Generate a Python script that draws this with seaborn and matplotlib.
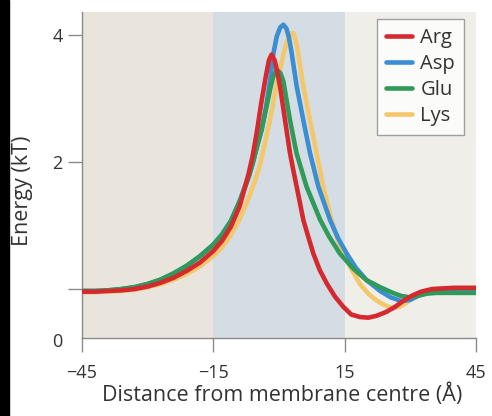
import numpy as np
import pandas as pd
import seaborn as sns
import matplotlib.pyplot as plt
from matplotlib.lines import Line2D
from matplotlib.patches import Rectangle
import matplotlib.transforms as mtransforms

# free-energy profiles (distance in Å, energy in kT)
arg_x = [-45, -42, -39, -36, -33, -30, -27, -24, -21, -18, -15, -13, -11, -9, -7, -6, -5, -4, -3,
         -2.3, -1.7, -1.0, -0.4, 0.23, 0.8, 1.37, 1.95, 2.51, 3.3, 4.04, 4.8, 5.55, 6.7, 7.84, 9.3,
         10.9, 12.8, 14.7, 16.5, 18.5, 20.4, 22.3, 24.5, 26.5, 28.5, 30.5, 32.5, 35, 40, 45]
arg_e = [-0.04, -0.04, -0.03, -0.02, 0.0, 0.04, 0.1, 0.18, 0.29, 0.42, 0.6, 0.76, 0.98, 1.3, 1.8, 2.1, 2.5, 2.95, 3.35,
         3.6, 3.69, 3.6, 3.42, 3.19, 2.93, 2.66, 2.4, 2.14, 1.86, 1.61, 1.35, 1.09, 0.82, 0.56, 0.3,
         0.09, -0.12, -0.28, -0.40, -0.44, -0.45, -0.42, -0.36, -0.28, -0.18, -0.10, -0.04, 0.0, 0.02, 0.02]

asp_x = [-45, -42, -39, -36, -33, -30, -27, -24, -21, -18, -15, -13, -11, -9, -7, -6, -5, -4, -3,
         -2, -1.3, -0.5, 0.3, 1.0, 1.7, 2.3, 2.9, 4.04, 5.55, 7.08, 9.0, 11.65, 13.5, 15.46, 17.5,
         20, 23.1, 25.5, 28, 30, 32, 34, 36, 45]
asp_e = [-0.03, -0.03, -0.02, 0.0, 0.03, 0.08, 0.15, 0.25, 0.37, 0.52, 0.70, 0.86, 1.07, 1.38, 1.75, 1.98, 2.25, 2.5, 2.85,
         3.3, 3.7, 3.98, 4.12, 4.16, 4.1, 3.95, 3.71, 3.19, 2.66, 2.14, 1.61, 1.09, 0.8, 0.56, 0.34,
         0.14, -0.03, -0.13, -0.19, -0.17, -0.10, -0.05, -0.03, -0.03]

glu_x = [-45, -42, -39, -36, -33, -30, -27, -24, -21, -18, -15, -13, -11, -9, -7, -6, -5, -4, -3,
         -2, -1.3, -0.5, 0.3, 1.0, 2.5, 4.0, 6.3, 9.4, 11.5, 13.9, 17, 20, 23.1, 26, 28, 30, 32,
         34, 36, 45]
glu_e = [-0.03, -0.03, -0.02, 0.0, 0.03, 0.08, 0.15, 0.25, 0.37, 0.52, 0.70, 0.86, 1.07, 1.38, 1.75, 1.98, 2.25, 2.5, 2.82,
         3.15, 3.35, 3.45, 3.4, 3.27, 2.66, 2.14, 1.61, 1.09, 0.82, 0.56, 0.32, 0.14, 0.03, -0.06, -0.11, -0.13, -0.10,
         -0.07, -0.06, -0.06]

lys_x = [-45, -42, -39, -36, -33, -30, -27, -24, -21, -18, -15, -13, -11, -9, -7, -5.5, -4.34, -3.2,
         -2.05, -1.0, 0.23, 1.2, 2.0, 2.7, 3.26, 3.8, 4.4, 5.55, 7.08, 8.6, 10.1, 12.0, 13.3, 14.7,
         16.5, 18.5, 20.5, 22.3, 24, 26, 27.5, 29, 31, 33, 35, 40, 45]
lys_e = [-0.05, -0.05, -0.04, -0.03, -0.01, 0.03, 0.08, 0.15, 0.24, 0.36, 0.52, 0.66, 0.85, 1.1, 1.42, 1.7, 1.95, 2.3,
         2.66, 3.05, 3.45, 3.75, 3.93, 4.02, 4.03, 3.92, 3.71, 3.19, 2.66, 2.14, 1.61, 1.09, 0.8, 0.56,
         0.32, 0.08, -0.08, -0.18, -0.25, -0.30, -0.28, -0.22, -0.12, -0.04, 0.0, 0.01, 0.01]

names = ["Arg", "Asp", "Glu", "Lys"]
colors = {"Arg": "#d42a2f", "Asp": "#3b8ed1", "Glu": "#2f9a59", "Lys": "#f4c76b"}

df = pd.concat([
    pd.DataFrame({"x": arg_x, "energy": arg_e, "residue": "Arg"}),
    pd.DataFrame({"x": asp_x, "energy": asp_e, "residue": "Asp"}),
    pd.DataFrame({"x": glu_x, "energy": glu_e, "residue": "Glu"}),
    pd.DataFrame({"x": lys_x, "energy": lys_e, "residue": "Lys"}),
])

sns.set_style("white")
plt.rcParams["font.family"] = ["Open Sans", "DejaVu Sans"]

fig = plt.figure(figsize=(4.92, 4.16), dpi=100)
ax = fig.add_axes([82 / 492, 78 / 416, 394 / 492, 326 / 416])

# membrane regions
ax.axvspan(-45, -15, color="#e9e5dc", lw=0, zorder=0)
ax.axvspan(-15, 15, color="#d5dde4", lw=0, zorder=0)
ax.axvspan(15, 45, color="#f0eee9", lw=0, zorder=0)

sns.lineplot(data=df, x="x", y="energy", hue="residue", hue_order=names,
             palette=colors, lw=3.3, estimator=None, sort=False, legend=False, ax=ax)
# drawing order: Lys at the back, Arg on top
for line, z in zip(ax.lines, [5, 3, 4, 2]):
    line.set_zorder(z)
    line.set_solid_capstyle("round")
    line.set_solid_joinstyle("round")

ax.set_xlim(-45, 45)
ax.set_ylim(-0.77, 4.36)
ax.set_xticks([-45, -15, 15, 45])
ax.set_xticklabels(["\u221245", "\u221215", "15", "45"])
ax.set_yticks([0, 2, 4])
ax.set_yticklabels(["", "2", "4"])
ax.tick_params(axis="both", direction="out", length=10, width=1, color="#8a8a8a",
               labelsize=13, labelcolor="#333333", left=True, bottom=True)
ax.tick_params(axis="x", pad=9)
ax.tick_params(axis="y", pad=4)
trans = mtransforms.blended_transform_factory(ax.transAxes, ax.transData)
ax.text(-0.05, -0.83, "0", transform=trans, ha="right", va="center", fontsize=13, color="#333333")

for side in ["top", "right"]:
    ax.spines[side].set_visible(False)
for side in ["left", "bottom"]:
    ax.spines[side].set_color("#8a8a8a")
    ax.spines[side].set_linewidth(1)

ax.set_xlabel("Distance from membrane centre (\u00c5)", fontsize=15.5, color="#333333", va="center")
ax.set_ylabel("Energy (kT)", fontsize=15.5, color="#333333", va="center")
ax.xaxis.set_label_coords(0.508, -0.175)
ax.yaxis.set_label_coords(-0.152, 0.45)

handles = [Line2D([0], [0], color=colors[n], lw=3.3) for n in names]
leg = ax.legend(handles, names, loc="upper right", bbox_to_anchor=(0.97, 0.979),
                borderaxespad=0, fontsize=14.5, frameon=True, fancybox=False,
                handlelength=1.3, handletextpad=0.4, labelspacing=0.3, borderpad=0.45)
leg.get_frame().set_edgecolor("#8a8a8a")
leg.get_frame().set_linewidth(1)
for t in leg.get_texts():
    t.set_color("#333333")

# dark strip at the left edge of the scanned figure
fig.patches.append(Rectangle((0, 0), 9 / 492, 1, transform=fig.transFigure,
                             color="black", zorder=-1))

fig.savefig("out.png", dpi=100)
